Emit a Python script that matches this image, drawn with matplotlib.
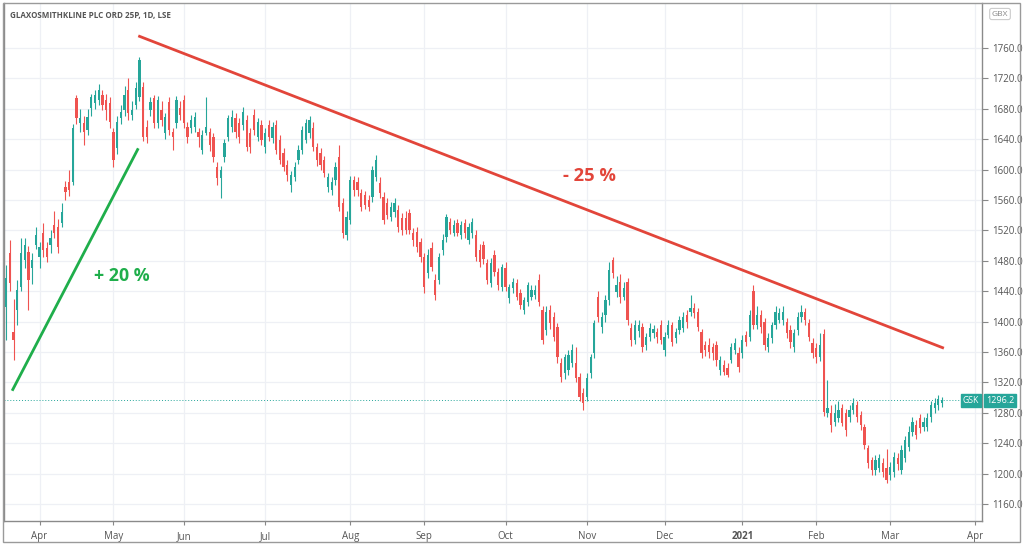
import matplotlib
matplotlib.use("Agg")
import matplotlib.pyplot as plt
import matplotlib.transforms as mtransforms
from matplotlib.patches import Rectangle
import pandas as pd

# GSK daily candles, 19 Mar 2020 - 19 Mar 2021
opens = [
    1419, 1490, 1386, 1415, 1446, 1481, 1492, 1471, 1501,
    1485, 1517, 1497, 1501, 1527, 1524, 1530, 1577, 1584, 1584, 1694, 1661, 1661, 1652, 1681, 1688, 1692, 1698, 1692, 1688,
    1649, 1628, 1668, 1678, 1705, 1672, 1685, 1696, 1709, 1656, 1678, 1694, 1661, 1678, 1648, 1689, 1649, 1661, 1681,
    1692, 1656, 1655, 1656, 1649, 1626, 1648, 1649, 1643, 1603, 1589, 1617, 1643, 1656, 1668, 1661, 1659, 1665, 1648, 1672, 1643, 1659,
    1630, 1659, 1642, 1659, 1639, 1622, 1606, 1580, 1590, 1613, 1626, 1639, 1648, 1655, 1630, 1622, 1613, 1577, 1573, 1586, 1617, 1556, 1514,
    1534, 1586, 1584, 1569, 1567, 1560, 1564, 1590, 1582, 1564, 1556, 1538, 1544, 1547, 1536, 1536, 1543, 1517, 1518, 1505,
    1485, 1464, 1497, 1455, 1455, 1494, 1511, 1531, 1517, 1530, 1514, 1530, 1507, 1517, 1514, 1494, 1501, 1477, 1451, 1488, 1465, 1446,
    1471, 1431, 1444, 1451, 1438, 1415, 1426, 1432, 1435, 1455, 1415, 1389, 1415, 1406, 1393, 1346, 1332, 1336, 1346, 1346, 1327, 1306,
    1301, 1332, 1359, 1432, 1393, 1409, 1428, 1481, 1439, 1452, 1432, 1452, 1391, 1376, 1387, 1393, 1369, 1380, 1385, 1386, 1396,
    1363, 1383, 1396, 1378, 1389, 1392, 1409, 1413, 1418, 1413, 1386, 1369, 1369, 1367, 1369, 1336, 1343, 1339, 1349, 1363, 1359,
    1359, 1382, 1380, 1440, 1396, 1409, 1399, 1367, 1378, 1396, 1402, 1402, 1399, 1389, 1367, 1389, 1406, 1413, 1398, 1372,
    1365, 1353, 1384, 1280, 1280, 1268, 1273, 1286, 1280, 1274, 1284, 1290, 1277, 1261, 1234, 1218, 1205, 1208, 1214, 1207,
    1198, 1202, 1221, 1205, 1221, 1235, 1255, 1264, 1273, 1261, 1261, 1274, 1286, 1290, 1293,
]
closes = [
    1458, 1451, 1376, 1442, 1490, 1501, 1455, 1481, 1514,
    1498, 1494, 1485, 1510, 1517, 1498, 1544, 1570, 1573, 1655, 1668, 1668, 1649, 1669, 1696, 1698, 1705, 1685, 1678, 1663,
    1613, 1663, 1676, 1698, 1674, 1678, 1707, 1744, 1643, 1643, 1689, 1661, 1692, 1665, 1669, 1652, 1643, 1692, 1672,
    1661, 1643, 1665, 1669, 1643, 1646, 1656, 1632, 1617, 1589, 1599, 1635, 1668, 1669, 1649, 1643, 1676, 1630, 1630, 1652, 1663, 1639,
    1648, 1643, 1656, 1626, 1613, 1603, 1593, 1593, 1603, 1626, 1652, 1661, 1665, 1630, 1613, 1606, 1596, 1590, 1584, 1603, 1551, 1517, 1538,
    1586, 1573, 1573, 1551, 1553, 1551, 1599, 1613, 1569, 1534, 1540, 1551, 1556, 1524, 1521, 1521, 1521, 1507, 1498, 1485,
    1446, 1488, 1472, 1435, 1485, 1507, 1538, 1521, 1527, 1517, 1527, 1517, 1524, 1531, 1485, 1478, 1483, 1455, 1477, 1465, 1448, 1472,
    1446, 1446, 1452, 1432, 1422, 1428, 1448, 1442, 1442, 1426, 1376, 1413, 1398, 1380, 1353, 1327, 1353, 1356, 1363, 1326, 1301, 1293,
    1326, 1353, 1398, 1406, 1406, 1428, 1468, 1464, 1448, 1432, 1444, 1402, 1376, 1396, 1396, 1367, 1380, 1392, 1390, 1380, 1376,
    1380, 1396, 1373, 1386, 1402, 1406, 1399, 1418, 1411, 1393, 1359, 1363, 1360, 1359, 1349, 1349, 1334, 1330, 1367, 1372, 1340,
    1376, 1373, 1409, 1396, 1409, 1393, 1369, 1378, 1396, 1413, 1411, 1413, 1385, 1373, 1385, 1406, 1413, 1402, 1380, 1359,
    1353, 1369, 1281, 1286, 1264, 1280, 1284, 1267, 1257, 1284, 1293, 1274, 1264, 1238, 1214, 1205, 1218, 1221, 1202, 1192,
    1209, 1222, 1212, 1231, 1244, 1255, 1268, 1251, 1260, 1268, 1273, 1290, 1293, 1298, 1296.2,
]
highs = [
    1475, 1507, 1430, 1455, 1510, 1510, 1500, 1490, 1525,
    1505, 1530, 1505, 1520, 1545, 1535, 1556, 1585, 1600, 1660, 1698, 1680, 1670, 1680, 1700, 1705, 1712, 1705, 1700, 1695,
    1655, 1670, 1685, 1710, 1720, 1690, 1715, 1748, 1715, 1665, 1695, 1698, 1697, 1690, 1675, 1695, 1655, 1697, 1690,
    1698, 1662, 1672, 1676, 1655, 1652, 1696, 1655, 1648, 1610, 1605, 1640, 1672, 1678, 1675, 1668, 1682, 1672, 1655, 1680, 1668, 1665,
    1655, 1665, 1662, 1665, 1645, 1628, 1612, 1598, 1610, 1632, 1658, 1666, 1670, 1662, 1635, 1628, 1618, 1595, 1590, 1610, 1632, 1562, 1545,
    1592, 1592, 1590, 1575, 1572, 1566, 1605, 1619, 1590, 1570, 1562, 1558, 1562, 1553, 1543, 1545, 1548, 1523, 1524, 1510,
    1490, 1495, 1505, 1462, 1490, 1515, 1542, 1536, 1534, 1535, 1533, 1535, 1530, 1536, 1520, 1502, 1506, 1482, 1484, 1494, 1470, 1476,
    1478, 1450, 1457, 1456, 1443, 1432, 1452, 1448, 1448, 1463, 1420, 1420, 1422, 1412, 1398, 1352, 1358, 1362, 1370, 1367, 1332, 1312,
    1332, 1358, 1402, 1440, 1412, 1435, 1478, 1485, 1460, 1462, 1452, 1458, 1398, 1402, 1402, 1398, 1385, 1398, 1395, 1392, 1402,
    1386, 1402, 1400, 1392, 1408, 1412, 1415, 1435, 1425, 1418, 1390, 1375, 1378, 1372, 1375, 1355, 1350, 1345, 1372, 1378, 1366,
    1382, 1388, 1415, 1448, 1420, 1415, 1405, 1385, 1400, 1420, 1418, 1420, 1405, 1395, 1390, 1412, 1422, 1418, 1404, 1378,
    1372, 1385, 1390, 1323, 1290, 1292, 1295, 1292, 1285, 1290, 1300, 1296, 1282, 1265, 1238, 1222, 1225, 1226, 1220, 1232,
    1215, 1228, 1227, 1238, 1250, 1262, 1275, 1270, 1278, 1274, 1280, 1296, 1300, 1303, 1301,
]
lows = [
    1376, 1440, 1350, 1395, 1440, 1470, 1415, 1450, 1495,
    1470, 1485, 1478, 1490, 1510, 1490, 1525, 1560, 1565, 1580, 1660, 1650, 1632, 1645, 1670, 1680, 1685, 1678, 1665, 1655,
    1603, 1620, 1660, 1670, 1665, 1665, 1680, 1690, 1638, 1635, 1670, 1655, 1655, 1658, 1640, 1645, 1626, 1655, 1665,
    1655, 1635, 1648, 1650, 1630, 1620, 1645, 1625, 1610, 1580, 1562, 1610, 1638, 1650, 1642, 1635, 1652, 1625, 1622, 1645, 1638, 1632,
    1622, 1638, 1635, 1620, 1608, 1598, 1585, 1570, 1585, 1608, 1620, 1635, 1642, 1625, 1605, 1600, 1590, 1570, 1567, 1580, 1545, 1510, 1508,
    1528, 1565, 1565, 1545, 1548, 1545, 1558, 1585, 1562, 1528, 1535, 1532, 1538, 1518, 1514, 1515, 1515, 1500, 1492, 1478,
    1438, 1458, 1466, 1428, 1450, 1488, 1505, 1515, 1512, 1512, 1509, 1510, 1502, 1510, 1480, 1472, 1476, 1450, 1446, 1460, 1442, 1440,
    1440, 1425, 1438, 1428, 1416, 1410, 1420, 1428, 1430, 1420, 1370, 1383, 1390, 1375, 1346, 1320, 1325, 1330, 1340, 1320, 1295, 1284,
    1295, 1326, 1352, 1400, 1385, 1400, 1422, 1458, 1432, 1425, 1428, 1396, 1368, 1370, 1380, 1360, 1362, 1375, 1378, 1372, 1370,
    1355, 1378, 1368, 1372, 1384, 1386, 1392, 1408, 1405, 1388, 1352, 1355, 1352, 1350, 1342, 1330, 1330, 1327, 1345, 1358, 1334,
    1352, 1368, 1375, 1390, 1390, 1385, 1362, 1360, 1372, 1390, 1398, 1396, 1378, 1365, 1360, 1383, 1400, 1396, 1374, 1352,
    1346, 1348, 1276, 1275, 1255, 1262, 1268, 1262, 1250, 1268, 1278, 1268, 1258, 1232, 1208, 1198, 1198, 1202, 1196, 1188,
    1192, 1196, 1205, 1200, 1215, 1230, 1250, 1246, 1254, 1256, 1256, 1268, 1280, 1284, 1288,
]
assert len(opens) == len(closes) == len(highs) == len(lows), (len(opens), len(closes), len(highs), len(lows))

# LSE trading days (weekends and bank holidays skipped, like TradingView)
holidays = ["2020-04-10", "2020-04-13", "2020-05-08", "2020-05-25", "2020-08-31",
            "2020-12-25", "2020-12-28", "2021-01-01"]
days = pd.bdate_range("2020-03-19", "2021-04-30", freq="C", holidays=holidays)

price_ticks = [1160, 1200, 1240, 1280, 1320, 1360, 1400, 1440, 1480, 1520, 1560, 1600, 1640, 1680, 1720, 1760]
last_price = 1296.2

# trend lines: (bar index, price) of the two ends
up_line_x = [1.6, 35.7]
up_line_y = [1309, 1628]
down_line_x = [35.7, 253.5]
down_line_y = [1776, 1365]

UP = "#26a69a"
DOWN = "#ef5350"
TXT = "#555555"
GRID = "#eef0f5"

plt.rcParams["font.family"] = ["Open Sans", "DejaVu Sans"]

fig = plt.figure(figsize=(10.24, 5.49), dpi=100)
W, H = 1024, 549
ax = fig.add_axes([4 / W, 1 - 521 / H, (982 - 4) / W, (521 - 3) / H])

# grid
month_pos, month_lab = [], []
for i in range(1, len(days)):
    if days[i].month != days[i - 1].month and days[i] <= pd.Timestamp("2021-04-05"):
        month_pos.append(i)
        month_lab.append(str(days[i].year) if days[i].month == 1 else days[i].strftime("%b"))
for p in month_pos:
    ax.axvline(p, color=GRID, lw=0.9, zorder=0)
for t in price_ticks:
    ax.axhline(t, color=GRID, lw=0.9, zorder=0)

# candles
for i, (o, h, l, c) in enumerate(zip(opens, highs, lows, closes)):
    col = UP if c >= o else DOWN
    ax.vlines(i, min(l, o, c), max(h, o, c), color=col, lw=0.8, zorder=2)
    ax.bar(i, max(abs(c - o), 1.2), bottom=min(o, c), width=0.62, color=col, lw=0, zorder=3)

# last price line
ax.axhline(last_price, color=UP, lw=0.7, ls=(0, (1, 2)), zorder=1)

# annotations
ax.plot(up_line_x, up_line_y, color="#1fae4b", lw=2.0, solid_capstyle="butt", zorder=4)
ax.plot(down_line_x, down_line_y, color="#e2453a", lw=2.0, solid_capstyle="butt", zorder=4)
ax.text(31.2, 1460, "+ 20 %", color="#1fae4b", fontsize=12.8, fontweight="bold", ha="center", va="center")
ax.text(157.8, 1591, "- 25 %", color="#e2453a", fontsize=13.2, fontweight="bold", ha="center", va="center")

ax.set_xlim(-0.6, 263.8)
ax.set_ylim(1760 - (521 - 48) / 0.76, 1760 + (48 - 3) / 0.76)

ax.yaxis.tick_right()
ax.set_yticks(price_ticks)
ax.set_yticklabels([f"{t:.1f}" for t in price_ticks])
ax.set_xticks(month_pos)
ax.set_xticklabels(month_lab)
for lab in ax.get_xticklabels():
    if lab.get_text() == "2021":
        lab.set_fontweight("bold")
        lab.set_color("#333333")
ax.tick_params(axis="y", direction="out", length=4, width=0.8, color="#888888", labelsize=7, labelcolor=TXT, pad=3)
ax.tick_params(axis="x", direction="out", length=3, width=0.8, color="#888888", labelsize=7, labelcolor=TXT, pad=4)
for side in ["left", "right", "bottom"]:
    ax.spines[side].set_color("#8a8a8a")
    ax.spines[side].set_linewidth(1.0)
ax.spines["top"].set_visible(False)

# header and price tags
ax.text(0.006, 0.976, "GLAXOSMITHKLINE PLC ORD 25P, 1D, LSE", transform=ax.transAxes,
        fontsize=5.8, fontweight="bold", color=TXT, ha="left", va="center")
tr = mtransforms.blended_transform_factory(ax.transAxes, ax.transData)
ax.text(0.997, last_price, "GSK", transform=tr, ha="right", va="center", fontsize=6.2, color="white",
        bbox=dict(boxstyle="square,pad=0.25", fc=UP, ec=UP), clip_on=False, zorder=6)
ax.text(1.004, last_price, "1296.2", transform=tr, ha="left", va="center", fontsize=6.5, color="white",
        bbox=dict(boxstyle="square,pad=0.25", fc=UP, ec=UP), clip_on=False, zorder=6)
fig.text(1000 / W, 1 - 14 / H, "GBX", fontsize=6, color="#888888", ha="center", va="center",
         bbox=dict(boxstyle="round,pad=0.25", fc="white", ec="#cccccc", lw=0.8))

# outer frame
fig.patches.append(Rectangle((3 / W, 1 - 542 / H), (1020 - 3) / W, (542 - 3) / H,
                             transform=fig.transFigure, fill=False, ec="#9a9a9a", lw=1.0))

fig.savefig("out.png", dpi=100)
